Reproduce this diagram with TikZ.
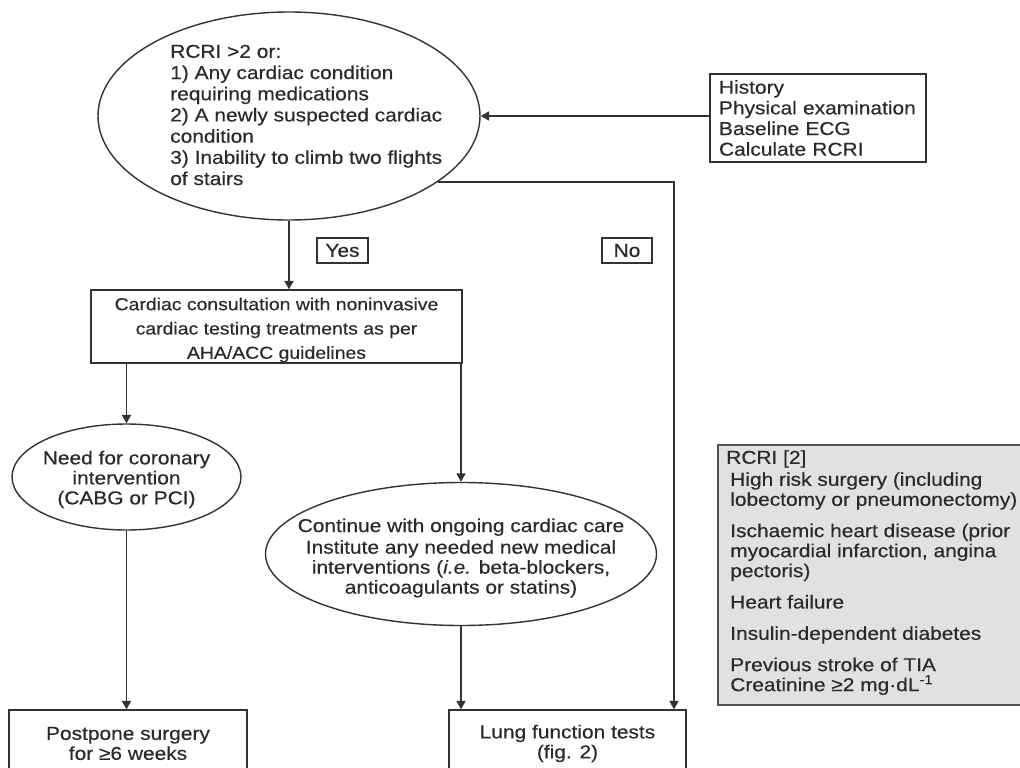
\documentclass[tikz,border=0pt]{standalone}
\usepackage{fontspec}
\setmainfont{Liberation Sans}[FakeStretch=1.12,FakeBold=0.35]
\usetikzlibrary{shapes.geometric,arrows.meta}
\definecolor{txt}{HTML}{2A2A2A}
\definecolor{lncol}{HTML}{333333}
\definecolor{graybox}{HTML}{E1E1E1}
\begin{document}
\begin{tikzpicture}[x=0.75pt,y=-0.75pt,
  every node/.style={text=txt, font=\fontsize{14pt}{15.5pt}\selectfont},
  conn/.style={draw=lncol, line width=1.05pt},
  arr/.style={conn, -{Triangle[width=6.8pt,length=6.3pt]}},
  boxst/.style={draw=lncol, line width=1.05pt, rectangle, inner sep=0pt, align=center},
  ellst/.style={draw=lncol, line width=1.05pt, ellipse, inner sep=0pt, align=center},
  plain/.style={inner sep=0pt}
]
\useasboundingbox (0,0) rectangle (1020,767);
\fill[white] (0,0) rectangle (1020,767);
\clip (0,0) rectangle (1020,767);

% top ellipse
\node[ellst, minimum width=286.5pt, minimum height=156pt] (e1) at (289,116) {};
\node[plain, anchor=west, align=left, font=\fontsize{14pt}{15.9pt}\selectfont] (e1t) at (170,115)
  {RCRI \textgreater2 or:\\
   1) Any cardiac condition\\
   requiring medications\\
   2) A newly suspected cardiac\\
   condition\\
   3) Inability to climb two flights\\
   of stairs};

% history box
\node[boxst, align=left, text width=148.5pt, inner xsep=6.75pt, minimum height=66pt,
      font=\fontsize{14pt}{15.5pt}\selectfont] (hist) at (818,118)
  {History\\Physical examination\\Baseline ECG\\Calculate RCRI};

% yes / no labels
\node[boxst, minimum width=38.25pt, minimum height=18.75pt] (yes) at (342.5,250.5) {Yes};
\node[boxst, minimum width=37.5pt, minimum height=18.75pt] (no) at (627,250.5) {No};

% cardiac consultation
\node[boxst, minimum width=278.25pt, minimum height=54.75pt] (card) at (276.5,326.5) {};
\node[plain, align=center, font=\fontsize{13pt}{18.2pt}\selectfont] (cardt) at (276.5,330)
  {Cardiac consultation with noninvasive\\cardiac testing treatments as per\\AHA/ACC guidelines};

% left ellipse
\node[ellst, minimum width=171.75pt, minimum height=79.5pt] (le) at (126.5,477) {};
\node[plain, align=center, font=\fontsize{14pt}{15pt}\selectfont] (let) at (126.5,479.5)
  {Need for coronary\\intervention\\(CABG or PCI)};

% middle ellipse
\node[ellst, minimum width=293.25pt, minimum height=107.25pt] (e2) at (461,554) {};
\node[plain, align=center, font=\fontsize{14pt}{15pt}\selectfont] (e2t) at (461,558)
  {Continue with ongoing cardiac care\\[1.2pt]
   Institute any needed new medical\\
   interventions (\textit{i.e.} beta-blockers,\\
   anticoagulants or statins)};

% bottom boxes
\node[boxst, minimum width=178.5pt, minimum height=50.25pt,
      font=\fontsize{14pt}{15pt}\selectfont] (post) at (128,743.5)
  {Postpone surgery\\for ≥6 weeks};
\node[boxst, minimum width=177.75pt, minimum height=50.25pt,
      font=\fontsize{14pt}{15pt}\selectfont] (lung) at (567.5,743.5)
  {Lung function tests\\(fig. 2)};

% RCRI grey box
\node[draw=lncol!85, line width=0.9pt, fill=graybox, rectangle, inner sep=0pt,
      minimum width=234pt, minimum height=195pt] (rcri) at (874,575) {};
\node[plain, anchor=north west, align=left, font=\fontsize{14pt}{15pt}\selectfont] (rcrit) at (726,450)
  {RCRI [2]\\[1.5pt]
   \hspace*{3pt}High risk surgery (including\\
   \hspace*{3pt}lobectomy or pneumonectomy)\\[8.5pt]
   \hspace*{3pt}Ischaemic heart disease (prior\\
   \hspace*{3pt}myocardial infarction, angina\\
   \hspace*{3pt}pectoris)\\[8.5pt]
   \hspace*{3pt}Heart failure\\[8.5pt]
   \hspace*{3pt}Insulin-dependent diabetes\\[8.5pt]
   \hspace*{3pt}Previous stroke of TIA\\
   \hspace*{3pt}Creatinine ≥2 mg·dL\textsuperscript{-1}};

% connectors
\coordinate (nox) at (674,0);
\draw[arr] (hist.west |- e1.east) -- (e1.east);
\draw[arr] (e1.south) -- (e1.south |- card.north);
\draw[arr] (e1.-24.6) -| (nox |- lung.north);
\draw[arr] (le.north |- card.south) -- (le.north);
\draw[arr] (e2.north |- card.south) -- (e2.north);
\draw[arr] (le.south) -- (le.south |- post.north);
\draw[arr] (e2.south) -- (e2.south |- lung.north);
\end{tikzpicture}
\end{document}
